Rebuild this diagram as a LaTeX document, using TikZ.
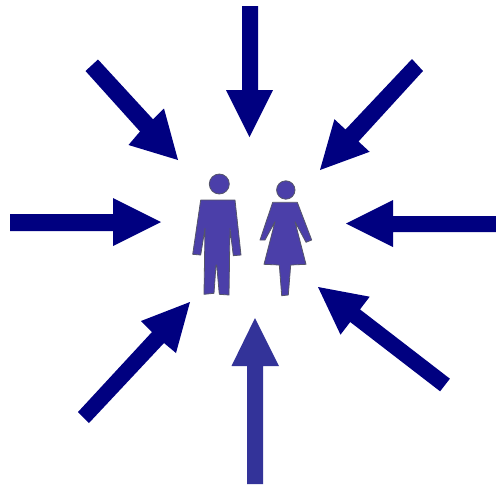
\documentclass[tikz,border=0pt]{standalone}
\definecolor{navyarrow}{HTML}{000080}
\definecolor{paleblue}{HTML}{333399}
\definecolor{figfill}{HTML}{4B3FA9}
\definecolor{figedge}{HTML}{55556A}
\tikzset{arrowshape/.style={fill=navyarrow,draw=none},
palearrow/.style={fill=paleblue,draw=none},
figure/.style={fill=figfill,draw=figedge,line width=0.8pt,line join=round}}
\begin{document}
\begin{tikzpicture}[x=1pt,y=-1pt]
\useasboundingbox (0,0) rectangle (496,488);
% top
\fill[arrowshape] (242,6)--(258,6)--(258,90)--(273,90)--(249.5,137)--(226,90)--(242,90)--cycle;
% left
\fill[arrowshape] (10,214)--(113,214)--(113,198)--(161,222)--(113,246)--(113,231)--(10,231)--cycle;
% right
\fill[arrowshape] (496,216)--(393,216)--(393,200)--(346,223.5)--(393,247)--(393,232)--(496,232)--cycle;
% north-east
\fill[arrowshape] (412,59)--(423,71)--(358.5,141.5)--(369.6,151.8)--(320,170)--(334.4,119.2)--(345.5,129.5)--cycle;
% north-west
\fill[arrowshape] (85.5,71)--(98,59.5)--(153,119.3)--(164,108.5)--(178,160)--(128.5,145)--(140,131.5)--cycle;
% south-west
\fill[arrowshape] (78,412)--(89,423)--(164,343)--(176,353)--(190,302)--(141,321)--(152,332)--cycle;
% south-east
\fill[arrowshape] (449.9,378.7)--(440.1,391.3)--(350.2,322)--(340.5,334.7)--(318,287)--(369.7,296.7)--(360,309.4)--cycle;
% bottom
\fill[palearrow] (247,484)--(263,484)--(263,366)--(279,366)--(255,318)--(231.5,366)--(247,366)--cycle;
% man
\draw[figure] (219.3,184) circle (10);
\draw[figure] (200.7,200)--(235,200)--(241,255)--(233.3,255.7)--(230,228.3)--(229,295)--(219.3,294.3)--(216.7,265)--(216,265)--(214,293.3)--(204,294.3)--(205,228.3)--(200.7,255)--(192.7,254.3)--cycle;
% woman
\draw[figure] (285.8,190) circle (9.2);
\draw[figure] (272.7,202.3)--(297.3,202.3)--(311.7,240)--(306,242.3)--(295,221.7)--(306,264.3)--(290.7,265)--(288.3,295)--(281.7,295.7)--(279.3,265)--(264,264.3)--(275,221.7)--(265,240)--(260,240)--cycle;
\end{tikzpicture}
\end{document}
